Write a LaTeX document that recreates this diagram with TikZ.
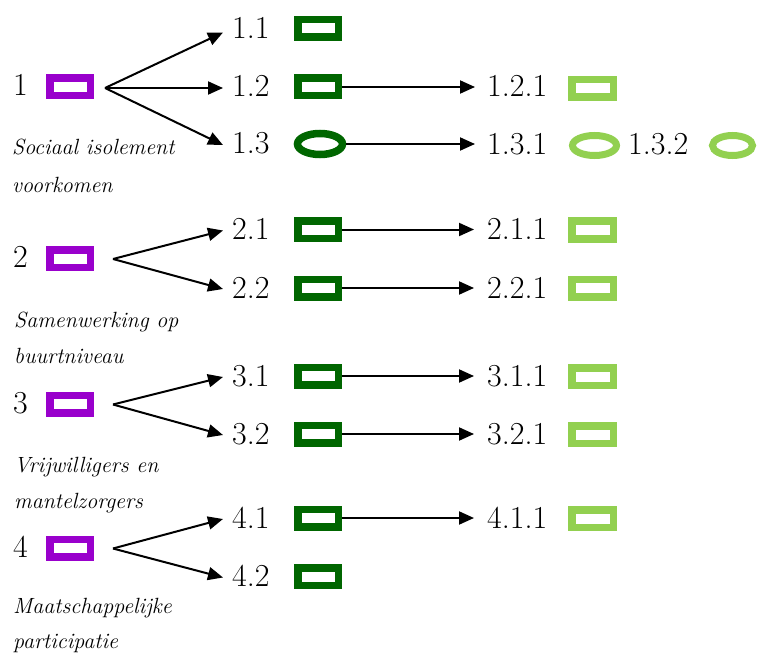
\documentclass[tikz,border=0pt]{standalone}
\usetikzlibrary{arrows.meta,shapes.geometric,calc}
\definecolor{purp}{HTML}{9900CC}
\definecolor{dgreen}{HTML}{006600}
\definecolor{lgreen}{HTML}{92D050}
\begin{document}
\begin{tikzpicture}[x=1pt,y=-1pt,
 lbl/.style={anchor=base west,inner sep=0pt,font=\fontsize{32}{38}\selectfont,text height=23pt,text depth=5pt},
 captxt/.style={anchor=base west,inner sep=0pt,font=\fontsize{22}{26}\selectfont\itshape},
 boxP/.style={draw=purp,line width=7.5pt,minimum width=40.5pt,minimum height=17.5pt,inner sep=0pt,rectangle},
 boxD/.style={draw=dgreen,line width=7.5pt,minimum width=40.5pt,minimum height=17.5pt,inner sep=0pt,rectangle},
 boxL/.style={draw=lgreen,line width=7.5pt,minimum width=41.5pt,minimum height=17.5pt,inner sep=0pt,rectangle},
 ellD/.style={draw=dgreen,line width=7.5pt,ellipse,minimum width=45pt,minimum height=21pt,inner sep=0pt},
 ellL/.style={draw=lgreen,line width=7pt,ellipse,minimum width=44pt,minimum height=20pt,inner sep=0pt},
 arr/.style={line width=2pt,-{Triangle[length=15pt,width=13pt]}}
]
\useasboundingbox (0,0) rectangle (760,655);

% ---------- row 1 ----------
\node[lbl] (n1) at (13,96) {1};
\node[boxP] (p1) at (70,87) {};
\coordinate (s1) at (105,88);
\node[lbl] (t11) at (232,38.5) {1.1};
\node[boxD] (b11) at (318,28.5) {};
\node[lbl] (t12) at (232,97) {1.2};
\node[boxD] (b12) at (318,87) {};
\node[lbl] (t13) at (232,154) {1.3};
\node[ellD] (b13) at (320,144) {};
\node[lbl] (t121) at (487,97) {1.2.1};
\node[boxL] (b121) at (592.5,88.5) {};
\node[lbl] (t131) at (487,155) {1.3.1};
\node[ellL] (b131) at (594.5,145.5) {};
\node[lbl] (t132) at (628,155) {1.3.2};
\node[ellL,minimum width=40pt] (b132) at (732.5,145.5) {};
\node[captxt] (c1a) at (12,155) {Sociaal isolement};
\node[captxt] (c1b) at (12,193) {voorkomen};
\draw[arr] (s1) -- ([xshift=-9pt,yshift=-3pt]t11.west);
\draw[arr] (s1) -- ([xshift=-9pt]t12.west);
\draw[arr] (s1) -- ([xshift=-9pt]t13.west);
\draw[arr] (b12.east) -- ($(b12.east -| t121.west)+(-12,0)$);
\draw[arr] (b13.east) -- ($(b13.east -| t131.west)+(-12,0)$);

% ---------- row 2 ----------
\node[lbl] (n2) at (13,267.5) {2};
\node[boxP] (p2) at (70,258.5) {};
\coordinate (s2) at (113,259);
\node[lbl] (t21) at (232,239.5) {2.1};
\node[boxD] (b21) at (318,229.5) {};
\node[lbl] (t22) at (232,298) {2.2};
\node[boxD] (b22) at (318,288) {};
\node[lbl] (t211) at (487,239.5) {2.1.1};
\node[boxL] (b211) at (592.5,230) {};
\node[lbl] (t221) at (487,298) {2.2.1};
\node[boxL] (b221) at (592.5,288) {};
\node[captxt] (c2a) at (14,327) {Samenwerking op};
\node[captxt] (c2b) at (14,363) {buurtniveau};
\draw[arr] (s2) -- ([xshift=-9pt]t21.west);
\draw[arr] (s2) -- ([xshift=-9pt]t22.west);
\draw[arr] (b21.east) -- ($(b21.east -| t211.west)+(-13,0)$);
\draw[arr] (b22.east) -- ($(b22.east -| t221.west)+(-13,0)$);

% ---------- row 3 ----------
\node[lbl] (n3) at (13,413) {3};
\node[boxP] (p3) at (70,404) {};
\coordinate (s3) at (113,404.5);
\node[lbl] (t31) at (232,386) {3.1};
\node[boxD] (b31) at (318,376) {};
\node[lbl] (t32) at (232,444) {3.2};
\node[boxD] (b32) at (318,434) {};
\node[lbl] (t311) at (487,386) {3.1.1};
\node[boxL] (b311) at (592.5,376.5) {};
\node[lbl] (t321) at (487,444) {3.2.1};
\node[boxL] (b321) at (592.5,434.5) {};
\node[captxt] (c3a) at (14,472) {Vrijwilligers en};
\node[captxt] (c3b) at (14,508) {mantelzorgers};
\draw[arr] (s3) -- ([xshift=-9pt]t31.west);
\draw[arr] (s3) -- ([xshift=-9pt]t32.west);
\draw[arr] (b31.east) -- ($(b31.east -| t311.west)+(-13,0)$);
\draw[arr] (b32.east) -- ($(b32.east -| t321.west)+(-13,0)$);

% ---------- row 4 ----------
\node[lbl] (n4) at (13,557) {4};
\node[boxP] (p4) at (70,548) {};
\coordinate (s4) at (113,548.5);
\node[lbl] (t41) at (232,528) {4.1};
\node[boxD] (b41) at (318,518) {};
\node[lbl] (t42) at (232,586.5) {4.2};
\node[boxD] (b42) at (318,576.5) {};
\node[lbl] (t411) at (487,528) {4.1.1};
\node[boxL] (b411) at (592.5,518.5) {};
\node[captxt] (c4a) at (13,613) {Maatschappelijke};
\node[captxt] (c4b) at (13,648) {participatie};
\draw[arr] (s4) -- ([xshift=-9pt]t41.west);
\draw[arr] (s4) -- ([xshift=-9pt]t42.west);
\draw[arr] (b41.east) -- ($(b41.east -| t411.west)+(-13,0)$);
\end{tikzpicture}
\end{document}
